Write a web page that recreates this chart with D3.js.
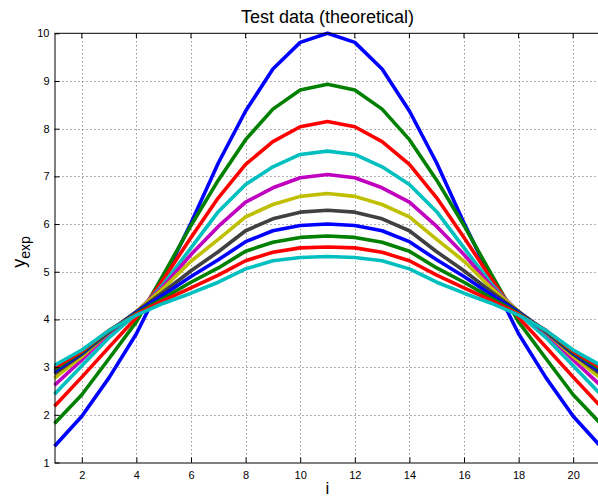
<!DOCTYPE html>
<html>
<head>
<meta charset="utf-8">
<script src="https://cdn.jsdelivr.net/npm/d3@7"></script>
<style>
  body { margin: 0; background: #fff; }
  svg { display: block; font-family: "Liberation Sans", Arial, sans-serif; }
</style>
</head>
<body>
<div id="chart"></div>
<script>
// values
const xs = [1,2,3,4,5,6,7,8,9,10,11,12,13,14,15,16,17,18,19,20,21];

const blue1   = [1.34,1.97,2.78,3.70,4.85,6.02,7.28,8.37,9.25,9.81,10.00,9.81,9.25,8.37,7.28,6.02,4.85,3.70,2.78,1.97,1.34];
const green1  = [1.82,2.42,3.18,3.95,4.95,5.97,6.92,7.77,8.41,8.81,8.93,8.81,8.41,7.77,6.92,5.97,4.95,3.95,3.18,2.42,1.82];
const red1    = [2.18,2.79,3.42,4.04,4.85,5.72,6.55,7.25,7.73,8.04,8.15,8.04,7.73,7.25,6.55,5.72,4.85,4.04,3.42,2.79,2.18];
const cyan1   = [2.43,3.03,3.62,4.12,4.75,5.50,6.26,6.83,7.20,7.46,7.53,7.46,7.20,6.83,6.26,5.50,4.75,4.12,3.62,3.03,2.43];
const magenta = [2.62,3.15,3.72,4.16,4.70,5.36,5.95,6.46,6.76,6.97,7.04,6.97,6.76,6.46,5.95,5.36,4.70,4.16,3.72,3.15,2.62];
const yellow  = [2.77,3.22,3.74,4.17,4.66,5.22,5.68,6.15,6.41,6.58,6.64,6.58,6.41,6.15,5.68,5.22,4.66,4.17,3.74,3.22,2.77];
const gray    = [2.86,3.27,3.74,4.16,4.58,5.02,5.42,5.86,6.11,6.25,6.29,6.25,6.11,5.86,5.42,5.02,4.58,4.16,3.74,3.27,2.86];
const blue2   = [2.91,3.29,3.76,4.15,4.52,4.90,5.25,5.63,5.86,5.97,6.00,5.97,5.86,5.63,5.25,4.90,4.52,4.15,3.76,3.29,2.91];
const green2  = [2.95,3.31,3.76,4.13,4.45,4.78,5.08,5.43,5.62,5.72,5.75,5.72,5.62,5.43,5.08,4.78,4.45,4.13,3.76,3.31,2.95];
const red2    = [2.99,3.33,3.77,4.11,4.40,4.66,4.93,5.23,5.41,5.50,5.52,5.50,5.41,5.23,4.93,4.66,4.40,4.11,3.77,3.33,2.99];
const cyan2   = [3.04,3.36,3.77,4.09,4.34,4.55,4.78,5.06,5.23,5.30,5.32,5.30,5.23,5.06,4.78,4.55,4.34,4.09,3.77,3.36,3.04];

const seriesList = [blue1, green1, red1, cyan1, magenta, yellow, gray, blue2, green2, red2, cyan2];
const colors = ["#0000ff","#008000","#ff0000","#00bfbf","#bf00bf","#bfbf00","#404040","#0000ff","#008000","#ff0000","#00bfbf"];

const xTicks = [2,4,6,8,10,12,14,16,18,20];
const yTicks = [1,2,3,4,5,6,7,8,9,10];

const width = 598, height = 499;
const mLeft = 54.5, mRight = 600.5, mTop = 33.3, mBottom = 462.5;

const x = d3.scaleLinear().domain([1, 21]).range([mLeft, mRight]);
const y = d3.scaleLinear().domain([1, 10]).range([mBottom, mTop]);

const svg = d3.select("#chart").append("svg")
  .attr("width", width)
  .attr("height", height)
  .attr("viewBox", [0, 0, width, height]);

// dotted grid
const grid = svg.append("g")
  .attr("stroke", "#666")
  .attr("stroke-width", 1)
  .attr("stroke-dasharray", "1,3");

grid.selectAll(".gx")
  .data(xTicks)
  .join("line")
  .attr("x1", d => Math.round(x(d)) + 0.5)
  .attr("x2", d => Math.round(x(d)) + 0.5)
  .attr("y1", mTop)
  .attr("y2", mBottom);

grid.selectAll(".gy")
  .data(yTicks.filter(d => d > 1 && d < 10))
  .join("line")
  .attr("y1", d => Math.round(y(d)) + 0.5)
  .attr("y2", d => Math.round(y(d)) + 0.5)
  .attr("x1", mLeft)
  .attr("x2", mRight);

// the lines
const line = d3.line()
  .x((d, i) => x(xs[i]))
  .y(d => y(d));

svg.append("g")
  .selectAll("path")
  .data(seriesList)
  .join("path")
  .attr("fill", "none")
  .attr("stroke", (d, i) => colors[i])
  .attr("stroke-width", 3.6)
  .attr("stroke-linejoin", "round")
  .attr("d", line);

// axes, ticks pointing inward
const xAxis = d3.axisBottom(x).tickValues(xTicks).tickSizeInner(-5).tickSizeOuter(0).tickPadding(9);
const yAxis = d3.axisLeft(y).tickValues(yTicks).tickSizeInner(-5).tickSizeOuter(0).tickPadding(5);

const gx = svg.append("g")
  .attr("transform", `translate(0,${mBottom})`)
  .call(xAxis);
const gy = svg.append("g")
  .attr("transform", `translate(${mLeft},0)`)
  .call(yAxis);

[gx, gy].forEach(g => {
  g.selectAll("text").attr("font-size", 11).attr("fill", "#000")
    .attr("font-family", "Liberation Sans, Arial, sans-serif");
  g.selectAll("line").attr("stroke", "#000");
  g.select(".domain").attr("stroke", "#000");
});

// top ticks
svg.append("g")
  .selectAll("line")
  .data(xTicks)
  .join("line")
  .attr("x1", d => x(d))
  .attr("x2", d => x(d))
  .attr("y1", mTop)
  .attr("y2", mTop + 5)
  .attr("stroke", "#000");

// box top
svg.append("line")
  .attr("x1", mLeft).attr("x2", mRight)
  .attr("y1", mTop).attr("y2", mTop)
  .attr("stroke", "#000");

// title and labels
svg.append("text")
  .attr("x", (mLeft + mRight) / 2)
  .attr("y", 23)
  .attr("text-anchor", "middle")
  .attr("font-size", 18)
  .text("Test data (theoretical)");

svg.append("text")
  .attr("x", (mLeft + mRight) / 2)
  .attr("y", 494)
  .attr("text-anchor", "middle")
  .attr("font-size", 17)
  .text("i");

const yl = svg.append("text")
  .attr("transform", `translate(25,252) rotate(-90)`)
  .attr("text-anchor", "middle")
  .attr("font-size", 18);
yl.append("tspan").text("y");
yl.append("tspan").attr("font-size", 14).attr("dy", 5).text("exp");
</script>
</body>
</html>
